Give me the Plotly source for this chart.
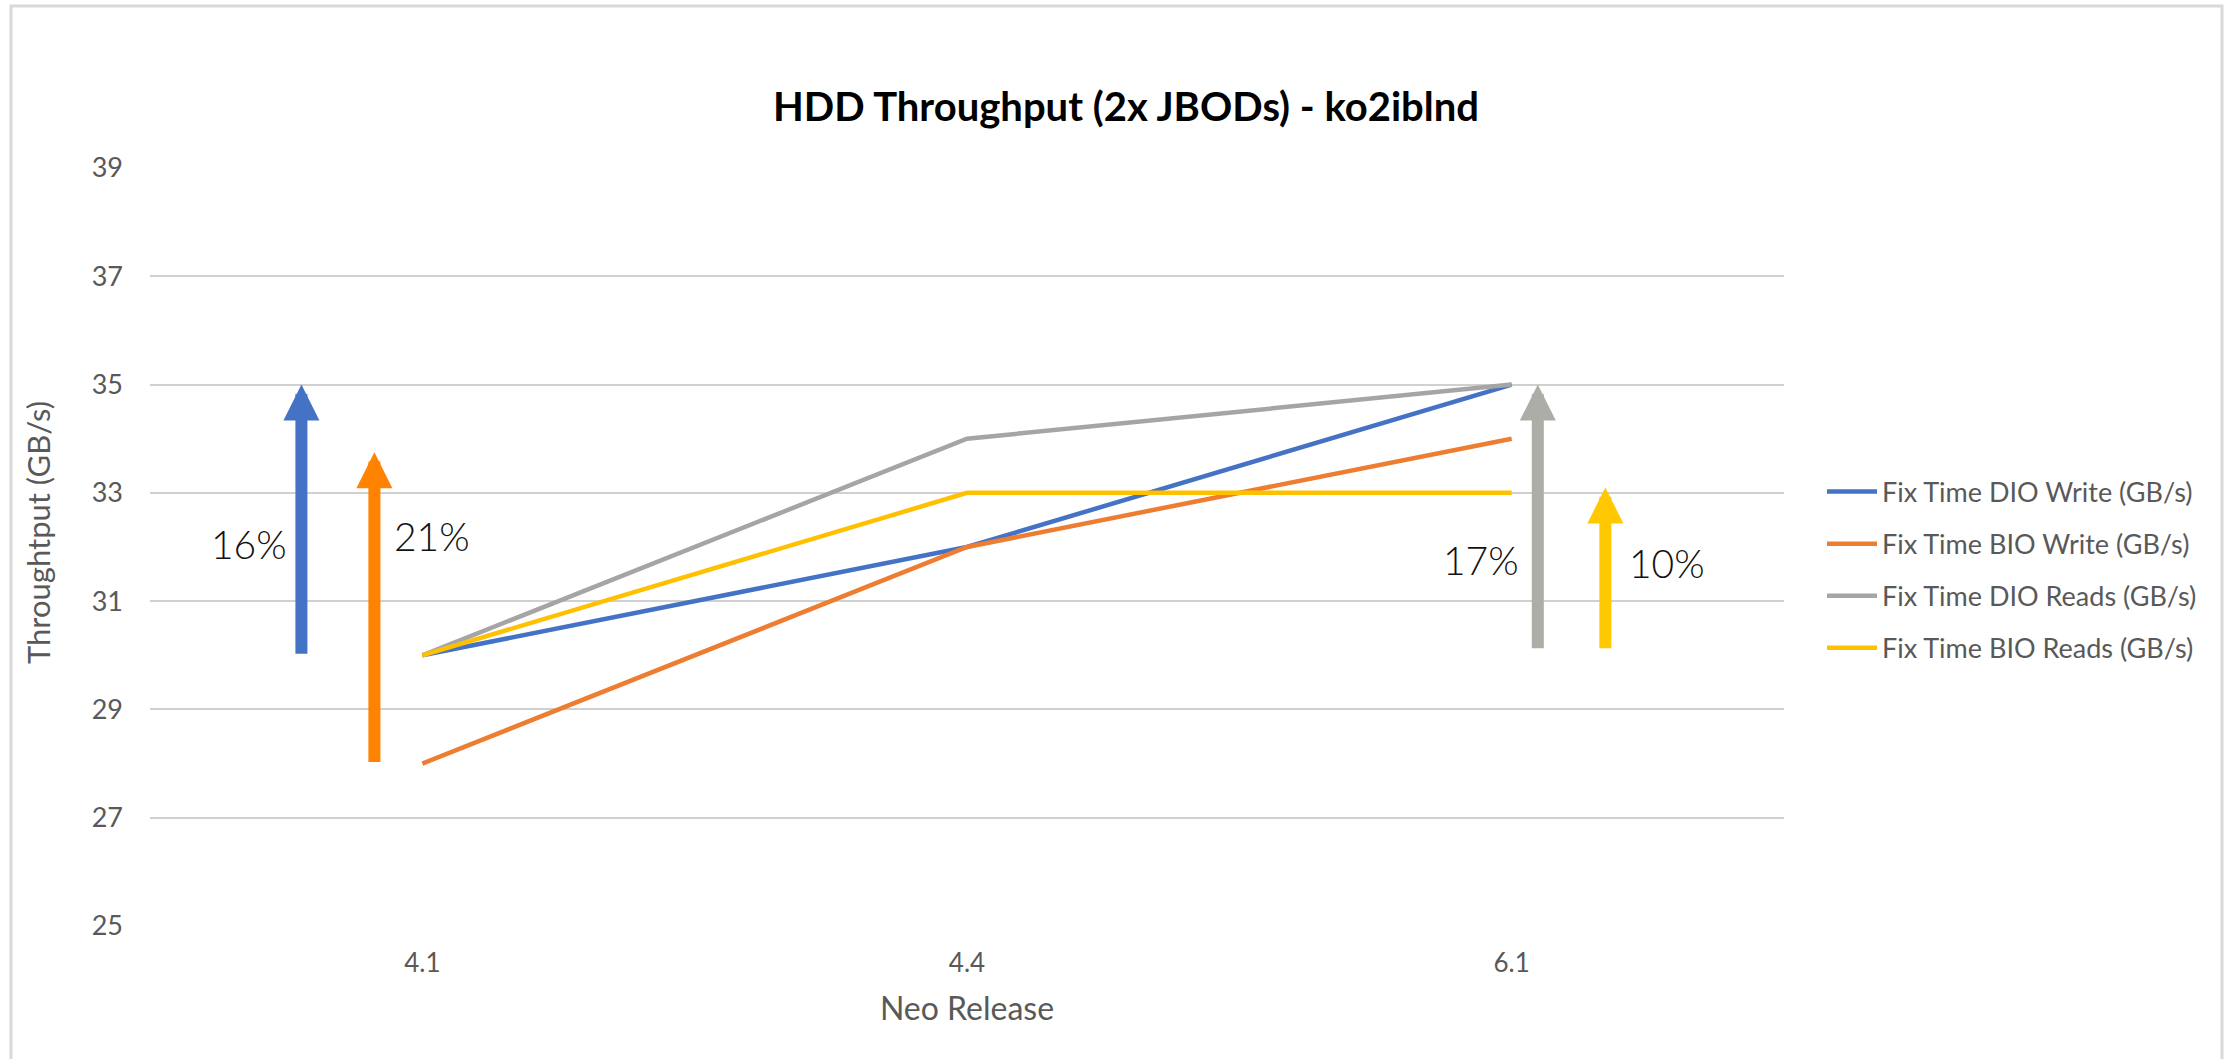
import plotly.graph_objects as go

# ---------------- data ----------------
releases = ["4.1", "4.4", "6.1"]
dio_write = [30, 32, 35]
bio_write = [28, 32, 34]
dio_reads = [30, 34, 35]
bio_reads = [30, 33, 33]
series_names = [
    "Fix Time DIO Write (GB/s)",
    "Fix Time BIO Write (GB/s)",
    "Fix Time DIO Reads (GB/s)",
    "Fix Time BIO Reads (GB/s)",
]
y_ticks = [25, 27, 29, 31, 33, 35, 37, 39]

# improvement arrows (value from -> value to) and their labels
arrow_labels = ["16%", "21%", "17%", "10%"]
arrow_from = [30, 28, 30.1, 30.1]
arrow_to = [35, 33.75, 35, 33.1]

# ---------------- styling / layout ----------------
line_colors = ["#4472C4", "#ED7D31", "#A5A5A5", "#FFC000"]
arrow_colors = ["#4472C4", "#FF8200", "#ADADA7", "#FFC800"]
arrow_x = [-0.222, -0.088, 2.048, 2.172]        # category-axis positions
label_x = [-0.318, 0.017, 1.943, 2.285]
label_y = [32.06, 32.2, 31.76, 31.7]

W, H = 2233, 1059
ML, MR, MT, MB = 150, 449, 168, 133
PW, PH = W - ML - MR, H - MT - MB

font_main = "Lato, 'Open Sans', sans-serif"
grey_txt = "#595959"

fig = go.Figure()
for name, vals, col in zip(series_names, [dio_write, bio_write, dio_reads, bio_reads], line_colors):
    fig.add_trace(go.Scatter(
        x=releases, y=vals, name=name, mode="lines",
        line=dict(color=col, width=4.5),
        legendgroup=name,
    ))

annotations = []
for xa, y0, y1, col in zip(arrow_x, arrow_from, arrow_to, arrow_colors):
    annotations.append(dict(
        x=xa, y=y1, ax=xa, ay=y0, xref="x", yref="y", axref="x", ayref="y",
        text="", showarrow=True, arrowhead=2, arrowsize=0.6, arrowwidth=12,
        arrowcolor=col, standoff=0, startstandoff=0,
    ))
for lx, ly, txt in zip(label_x, label_y, arrow_labels):
    annotations.append(dict(
        x=lx, y=ly, xref="x", yref="y", text=txt, showarrow=False,
        font=dict(family=font_main, size=39, color="#111111", weight=300),
        xanchor="center", yanchor="middle",
    ))


def px_x(px):
    return (px - ML) / PW


def px_y(py):
    return (H - MB - py) / PH


# y-axis title as annotation (positioned like the reference)
annotations.append(dict(
    x=px_x(38), y=px_y(533), xref="paper", yref="paper",
    text="Throughtput (GB/s)", textangle=-90, showarrow=False,
    xanchor="center", yanchor="middle",
    font=dict(family=font_main, size=31, color=grey_txt),
))

fig.update_layout(
    width=W, height=H,
    margin=dict(l=ML, r=MR, t=MT, b=MB, autoexpand=False),
    paper_bgcolor="white", plot_bgcolor="white",
    title=dict(
        text="<b>HDD Throughput (2x JBODs) - ko2iblnd</b>",
        x=px_x(1126), xref="paper", xanchor="center",
        y=1 - 107 / H, yanchor="middle",
        font=dict(family=font_main, size=40, color="#000000"),
    ),
    xaxis=dict(
        type="category", range=[-0.5, 2.5],
        showgrid=False, zeroline=False, showline=False, ticks="",
        tickfont=dict(family=font_main, size=26, color=grey_txt),
        ticklabelstandoff=19,
        title=dict(text="Neo Release", standoff=20,
                   font=dict(family=font_main, size=32, color=grey_txt)),
    ),
    yaxis=dict(
        range=[25, 39], tickvals=y_ticks,
        showgrid=True, gridcolor="#D0D0D0", gridwidth=2,
        zeroline=False, showline=False, ticks="",
        tickfont=dict(family=font_main, size=27, color=grey_txt),
        ticklabelstandoff=26,
    ),
    legend=dict(
        x=px_x(1822), xanchor="left", y=px_y(570), yanchor="middle",
        font=dict(family=font_main, size=27, color=grey_txt),
        tracegroupgap=14, itemwidth=50, bgcolor="rgba(0,0,0,0)",
    ),
    showlegend=True,
    annotations=annotations,
    shapes=[dict(
        type="rect", xref="paper", yref="paper",
        x0=px_x(11), x1=px_x(2222), y0=px_y(1065), y1=px_y(6),
        line=dict(color="#D9D9D9", width=3), fillcolor="rgba(0,0,0,0)", layer="below",
    )],
)

fig.write_html(
    "out.html",
    config={"displayModeBar": False},
    post_script="document.body.style.margin='0';document.body.style.overflow='hidden';",
)
